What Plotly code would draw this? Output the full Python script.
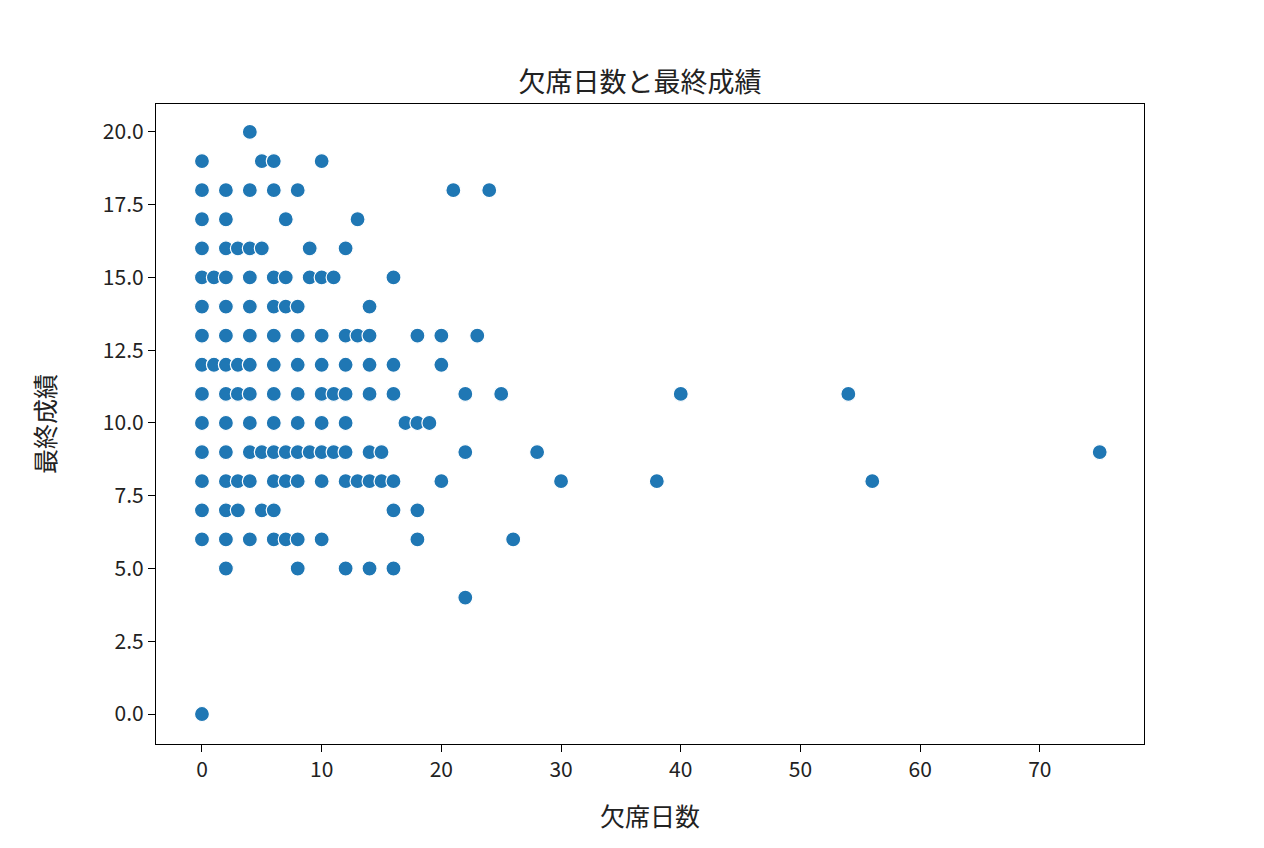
import plotly.graph_objects as go

rows = {
    20: [4],
    19: [0, 5, 6, 10],
    18: [0, 2, 4, 6, 8, 21, 24],
    17: [0, 2, 7, 13],
    16: [0, 2, 3, 4, 5, 9, 12],
    15: [0, 1, 2, 4, 6, 7, 9, 10, 11, 16],
    14: [0, 2, 4, 6, 7, 8, 14],
    13: [0, 2, 4, 6, 8, 10, 12, 13, 14, 18, 20, 23],
    12: [0, 1, 2, 3, 4, 6, 8, 10, 12, 14, 16, 20],
    11: [0, 2, 3, 4, 6, 8, 10, 11, 12, 14, 16, 22, 25, 40, 54],
    10: [0, 2, 4, 6, 8, 10, 12, 17, 18, 19],
    9: [0, 2, 4, 5, 6, 7, 8, 9, 10, 11, 12, 14, 15, 22, 28, 75],
    8: [0, 2, 3, 4, 6, 7, 8, 10, 12, 13, 14, 15, 16, 20, 30, 38, 56],
    7: [0, 2, 3, 5, 6, 16, 18],
    6: [0, 2, 4, 6, 7, 8, 10, 18, 26],
    5: [2, 8, 12, 14, 16],
    4: [22],
    0: [0],
}
absences = [a for g, lst in rows.items() for a in lst]
grades = [g for g, lst in rows.items() for a in lst]

x_ticks = [0, 10, 20, 30, 40, 50, 60, 70]
y_ticks = [0, 2.5, 5, 7.5, 10, 12.5, 15, 17.5, 20]

fig = go.Figure(go.Scatter(
    x=absences, y=grades, mode="markers",
    marker=dict(color="#1f77b4", size=15, line=dict(color="white", width=1.2)),
))
font = "Noto Sans CJK JP"
axis = dict(showgrid=False, zeroline=False, showline=True, mirror=True,
            linecolor="black", linewidth=1.3, ticks="outside", ticklen=7,
            tickcolor="black", tickfont=dict(size=21, color="#222"))
fig.update_layout(
    width=1264, height=848, plot_bgcolor="white", paper_bgcolor="white",
    margin=dict(l=148, r=128, t=96, b=112), showlegend=False,
    font=dict(family=font, color="#222"),
    title=dict(text="欠席日数と最終成績", x=0.5, xanchor="center",
               y=1 - 75 / 848, yanchor="middle", font=dict(size=27)),
    xaxis=dict(axis, range=[-3.84, 78.7], tickvals=x_ticks,
               title=dict(text="欠席日数", font=dict(size=25), standoff=26)),
    yaxis=dict(axis, range=[-1.03, 20.96], tickvals=y_ticks,
               ticktext=[f"{v:.1f}" for v in y_ticks],
               title=dict(text="最終成績", font=dict(size=25), standoff=40)),
)
fig.write_html("out.html")
